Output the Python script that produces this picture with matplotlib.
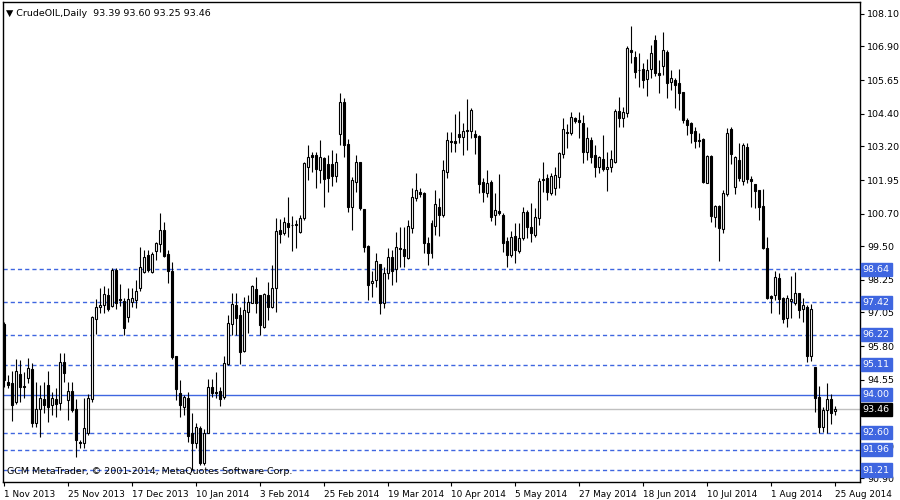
import numpy as np
import matplotlib
matplotlib.use("Agg")
import matplotlib.pyplot as plt

# CrudeOIL daily candles, 1 Nov 2013 - 25 Aug 2014
opens = [96.62, 94.47, 94.43, 93.72, 94.77, 94.32, 94.63, 94.94, 92.96, 93.46,
         93.83, 94.36, 93.62, 93.83, 93.68, 95.20, 93.80, 94.15, 93.46, 92.24,
         92.22, 92.59, 93.83, 96.79, 97.26, 97.32, 97.69, 97.28, 98.62, 97.55,
         97.47, 96.89, 97.45, 97.51, 97.94, 98.56, 99.17, 98.56, 99.33, 99.57,
         100.10, 99.21, 98.59, 95.43, 94.07, 93.53, 93.86, 92.57, 92.22, 92.75,
         91.48, 92.59, 94.27, 94.09, 94.15, 93.90, 95.14, 96.62, 97.32, 96.95,
         95.63, 97.07, 97.41, 97.90, 97.69, 96.49, 97.69, 97.23, 97.94, 100.10,
         99.98, 100.37, 100.30, 100.30, 100.04, 100.53, 102.45, 102.87, 102.87, 102.32,
         102.75, 102.54, 102.54, 102.10, 103.64, 104.83, 103.29, 100.97, 101.89, 102.63,
         100.87, 99.51, 98.13, 98.25, 98.84, 97.41, 98.50, 99.11, 98.64, 99.43,
         99.39, 99.05, 100.16, 101.27, 101.51, 101.48, 99.61, 99.24, 100.25, 100.94,
         100.66, 102.26, 103.41, 103.41, 103.66, 103.56, 103.79, 103.78, 103.66, 103.58,
         101.89, 101.48, 101.89, 100.66, 100.82, 100.66, 99.71, 99.17, 99.88, 99.33,
         99.79, 100.78, 100.22, 99.91, 100.53, 101.99, 102.01, 101.48, 101.64, 102.05,
         102.92, 103.72, 103.68, 104.24, 104.17, 104.08, 103.00, 103.43, 102.88, 102.42,
         102.72, 102.35, 102.45, 102.63, 104.52, 104.24, 104.45, 106.77, 106.50, 106.04,
         106.05, 105.68, 106.05, 107.14, 105.93, 106.17, 106.71, 105.59, 105.66, 105.53,
         105.22, 104.17, 104.05, 103.78, 103.43, 103.46, 101.85, 102.84, 100.57, 100.99,
         100.12, 101.43, 103.83, 101.68, 102.69, 101.93, 103.16, 101.98, 101.80, 101.58,
         100.99, 99.42, 97.65, 97.69, 98.31, 97.57, 96.83, 97.48, 97.41, 97.75,
         97.16, 97.24, 95.43, 95.04, 93.90, 92.79, 93.43, 93.83, 93.39]
highs = [96.70, 94.73, 94.86, 95.33, 95.28, 94.85, 95.36, 95.16, 94.48, 94.36,
         94.48, 94.86, 94.11, 94.23, 95.53, 95.53, 94.46, 94.48, 93.83, 92.32,
         93.86, 94.02, 96.91, 97.54, 97.94, 98.02, 97.94, 98.68, 98.68, 98.10,
         97.57, 97.94, 97.94, 98.25, 99.46, 99.36, 99.36, 99.30, 99.67, 100.72,
         100.41, 99.36, 98.93, 95.43, 94.54, 93.99, 94.11, 93.31, 92.96, 92.84,
         92.72, 94.60, 94.60, 94.85, 94.30, 95.43, 96.95, 97.78, 97.75, 97.23,
         97.63, 97.69, 98.06, 98.35, 97.69, 97.78, 98.19, 98.80, 100.53, 100.49,
         100.59, 101.31, 100.62, 100.47, 100.66, 102.63, 103.25, 103.00, 103.00, 103.43,
         102.82, 102.88, 103.06, 102.96, 105.16, 104.98, 103.46, 102.05, 102.88, 102.63,
         100.87, 99.55, 98.59, 99.24, 98.84, 98.72, 99.42, 99.36, 100.04, 100.22,
         100.22, 100.47, 101.64, 102.20, 101.64, 101.52, 99.85, 100.47, 101.58, 101.27,
         102.69, 103.74, 103.74, 104.40, 104.51, 104.05, 104.94, 104.61, 103.80, 103.62,
         102.01, 102.32, 101.95, 101.46, 102.17, 100.72, 99.85, 100.08, 100.37, 100.37,
         100.94, 100.84, 101.11, 100.90, 102.01, 102.63, 102.17, 102.22, 102.42, 103.00,
         104.24, 104.03, 104.48, 104.30, 104.48, 104.36, 103.90, 103.53, 103.25, 102.84,
         103.62, 103.00, 103.06, 104.57, 105.04, 104.64, 106.91, 107.66, 106.74, 106.64,
         106.30, 106.42, 106.95, 107.32, 106.40, 107.45, 106.77, 106.03, 105.72, 106.05,
         105.22, 104.24, 104.11, 103.93, 103.70, 103.49, 102.88, 102.88, 101.02, 101.02,
         101.58, 103.86, 103.90, 102.84, 103.31, 103.31, 103.31, 102.10, 101.80, 101.58,
         101.61, 99.83, 97.69, 98.59, 98.49, 97.63, 97.69, 98.39, 98.56, 97.75,
         97.57, 97.32, 97.36, 95.04, 94.32, 93.55, 94.42, 94.02, 93.60]
lows = [94.30, 94.23, 93.04, 93.65, 93.74, 93.86, 94.44, 92.81, 92.81, 92.44,
        93.31, 92.99, 93.25, 93.19, 93.43, 94.48, 93.06, 93.37, 91.70, 92.01,
        92.01, 92.51, 93.72, 96.25, 97.01, 97.01, 97.11, 97.23, 97.16, 97.28,
        96.21, 96.70, 97.26, 97.20, 97.85, 98.49, 98.56, 98.49, 98.99, 99.30,
        99.09, 98.12, 95.31, 93.80, 93.16, 93.25, 92.26, 91.21, 92.01, 91.40,
        91.40, 92.57, 93.93, 93.86, 93.58, 93.83, 95.10, 96.21, 96.21, 95.14,
        95.59, 96.27, 97.38, 97.01, 96.21, 96.46, 96.77, 97.20, 97.07, 99.60,
        99.91, 99.85, 99.34, 99.42, 99.98, 100.47, 101.95, 102.26, 101.64, 101.83,
        100.97, 101.52, 101.73, 101.89, 103.25, 102.82, 100.78, 100.10, 101.52, 100.84,
        99.30, 97.51, 97.63, 98.00, 96.99, 97.20, 98.27, 98.06, 98.19, 98.74,
        98.74, 99.01, 99.98, 101.19, 101.31, 99.24, 98.80, 99.05, 99.91, 99.88,
        100.59, 102.01, 103.00, 103.00, 103.31, 102.88, 103.06, 103.50, 102.92, 101.46,
        101.15, 101.34, 100.45, 100.29, 100.66, 99.30, 98.72, 99.11, 98.89, 99.26,
        99.73, 99.79, 99.67, 99.85, 100.29, 101.52, 101.21, 101.40, 101.40, 101.64,
        102.75, 103.13, 103.62, 104.05, 103.50, 102.59, 102.69, 102.57, 102.08, 102.20,
        102.30, 101.56, 102.26, 102.57, 103.93, 103.92, 104.30, 106.30, 105.72, 105.41,
        105.35, 105.06, 105.72, 105.80, 105.19, 105.84, 104.98, 105.29, 104.61, 104.54,
        104.05, 103.62, 103.34, 103.13, 103.19, 101.83, 101.83, 100.41, 100.22, 98.96,
        100.00, 101.36, 102.54, 101.43, 101.93, 101.77, 101.83, 100.96, 100.90, 100.47,
        99.38, 97.53, 97.04, 97.51, 96.99, 96.67, 96.52, 96.83, 97.32, 96.83,
        96.70, 95.22, 95.26, 93.37, 92.57, 92.63, 92.59, 92.91, 93.25]
closes = [94.54, 94.37, 93.63, 94.86, 94.30, 94.28, 94.98, 92.96, 93.46, 93.86,
          93.63, 93.56, 93.86, 93.65, 95.20, 94.79, 94.15, 93.43, 92.32, 92.20,
          92.75, 93.86, 96.86, 97.23, 97.33, 97.73, 97.16, 98.62, 97.38, 97.50,
          96.46, 97.53, 97.57, 97.85, 98.72, 99.11, 98.62, 99.21, 99.60, 100.10,
          99.14, 98.59, 95.38, 94.20, 93.62, 93.93, 92.47, 92.22, 92.79, 91.48,
          92.59, 94.30, 94.07, 94.05, 93.83, 95.16, 96.67, 97.36, 96.83, 95.59,
          97.14, 97.44, 98.02, 97.41, 96.58, 97.72, 97.23, 97.94, 100.06, 99.94,
          100.38, 100.22, 100.28, 100.31, 100.53, 102.57, 102.82, 102.79, 102.35, 102.79,
          101.98, 102.01, 102.10, 102.62, 104.83, 103.25, 100.94, 101.95, 102.63, 100.90,
          99.46, 98.06, 98.21, 98.97, 97.41, 98.52, 99.09, 98.59, 99.46, 99.40,
          99.14, 100.25, 101.31, 101.58, 101.43, 99.63, 99.26, 100.37, 101.06, 100.66,
          102.32, 103.43, 103.37, 103.34, 103.53, 103.77, 103.76, 104.55, 103.53, 101.80,
          101.52, 101.83, 100.59, 100.84, 100.72, 99.63, 99.17, 99.85, 99.36, 99.82,
          100.78, 100.20, 100.00, 100.57, 101.92, 101.95, 101.52, 102.10, 102.14, 102.96,
          103.83, 103.68, 104.30, 104.15, 104.11, 103.00, 103.49, 102.82, 102.42, 102.82,
          102.35, 102.45, 102.72, 104.52, 104.24, 104.48, 106.83, 106.71, 105.96, 106.01,
          105.66, 106.03, 106.64, 105.93, 105.84, 106.77, 105.56, 105.72, 105.47, 105.19,
          104.17, 103.99, 103.70, 103.41, 103.40, 101.89, 102.84, 100.62, 100.99, 100.16,
          101.46, 103.70, 102.91, 102.79, 102.01, 103.25, 101.98, 101.93, 101.56, 100.96,
          99.42, 97.57, 97.60, 98.35, 97.53, 96.79, 97.57, 97.53, 97.78, 97.14,
          97.32, 95.43, 97.16, 93.86, 92.79, 93.43, 93.83, 93.31, 93.46]

date_labels = ["1 Nov 2013", "25 Nov 2013", "17 Dec 2013", "10 Jan 2014", "3 Feb 2014",
               "25 Feb 2014", "19 Mar 2014", "10 Apr 2014", "5 May 2014", "27 May 2014",
               "18 Jun 2014", "10 Jul 2014", "1 Aug 2014", "25 Aug 2014"]
bars_per_label = 16
price_ticks = [108.10, 106.90, 105.65, 104.40, 103.20, 101.95, 100.70, 99.50,
               98.25, 97.05, 95.80, 94.55, 93.30, 92.10, 90.90]
dashed_levels = [98.64, 97.42, 96.22, 95.11, 92.60, 91.96, 91.21]
solid_level = 94.00
bid = 93.46

blue = "#3f66e0"

o = np.array(opens)
h = np.array(highs)
l = np.array(lows)
c = np.array(closes)
x = np.arange(len(o))

fig = plt.figure(figsize=(9, 5), dpi=100)
ax = fig.add_axes([3 / 900, 18 / 500, 857 / 900, 480 / 500])

# wicks
ax.vlines(x, l, h, color="black", lw=0.8, zorder=3)
# bodies
up = c >= o
bottom = np.minimum(o, c)
height = np.maximum(np.abs(c - o), 0.015)
ax.bar(x[up], height[up], bottom=bottom[up], width=0.5, color="white",
       edgecolor="black", lw=0.8, zorder=4)
ax.bar(x[~up], height[~up], bottom=bottom[~up], width=0.5, color="black",
       edgecolor="black", lw=0.8, zorder=4)

# levels
for lv in dashed_levels:
    ax.axhline(lv, color=blue, lw=1.0, ls=(0, (3, 2.2)), zorder=2)
ax.axhline(solid_level, color=blue, lw=1.0, zorder=2)
ax.axhline(bid, color="#c0c0c0", lw=1.0, zorder=2)

ax.set_xlim(-0.25, 214.25)
ax.set_ylim(90.767, 108.544)

ax.yaxis.tick_right()
ax.set_yticks(price_ticks)
# 93.30 sits completely under the bid box in the original
ax.set_yticklabels(["" if v == 93.30 else f"{v:.2f}" for v in price_ticks])
ax.set_xticks(np.arange(len(date_labels)) * bars_per_label)
ax.set_xticklabels(date_labels)
for lbl in ax.get_xticklabels():
    lbl.set_ha("left")
ax.tick_params(axis="both", direction="out", length=3, width=0.8, labelsize=6.8, pad=2)
ax.tick_params(axis="x", pad=3, labelsize=6.4)
for sp in ax.spines.values():
    sp.set_linewidth(1.0)

# price boxes on the right axis
for lv in dashed_levels + [solid_level]:
    ax.annotate(f"{lv:.2f}", xy=(1, lv), xycoords=("axes fraction", "data"),
                xytext=(2, 0), textcoords="offset points", ha="left", va="center",
                fontsize=6.8, color="white", annotation_clip=False, zorder=6,
                bbox=dict(boxstyle="square,pad=0.22", fc=blue, ec=blue))
ax.annotate(f"{bid:.2f}", xy=(1, bid), xycoords=("axes fraction", "data"),
            xytext=(2, 0), textcoords="offset points", ha="left", va="center",
            fontsize=6.8, color="white", annotation_clip=False, zorder=6,
            bbox=dict(boxstyle="square,pad=0.22", fc="black", ec="black"))

ax.text(0.004, 0.985, "\u25bc CrudeOIL,Daily  93.39 93.60 93.25 93.46", transform=ax.transAxes,
        fontsize=6.8, ha="left", va="top")
ax.text(0.005, 0.012, "GCM MetaTrader, \u00a9 2001-2014, MetaQuotes Software Corp.",
        transform=ax.transAxes, fontsize=6.8, ha="left", va="bottom")

fig.savefig("out.png", dpi=100)
